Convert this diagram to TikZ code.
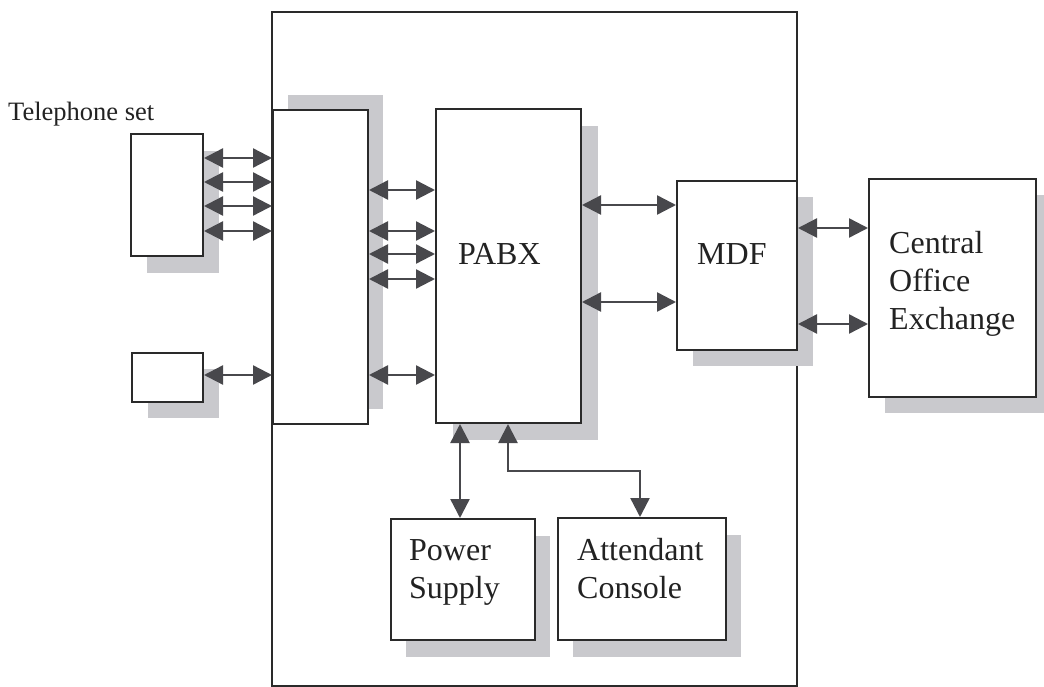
\documentclass[tikz,border=0pt]{standalone}
\usepackage{fontspec}
\setmainfont{Liberation Serif}
\usetikzlibrary{arrows.meta,shadows}
\definecolor{edge}{HTML}{2A2A2A}
\definecolor{arrowc}{HTML}{48484C}
\definecolor{shade}{HTML}{C9C9CD}
\definecolor{ink}{HTML}{222222}
\tikzset{
  box/.style={draw=edge, line width=2pt, fill=white, inner sep=0pt, anchor=north west},
  shd/.style 2 args={general shadow={fill=shade, shadow xshift=#1pt, shadow yshift=#2pt}},
  arr/.style={draw=arrowc, line width=2.4pt, {Triangle[length=19pt,width=19pt]}-{Triangle[length=19pt,width=19pt]}},
  lbl/.style={text=ink, inner sep=0pt, anchor=base west, align=left, font=\fontsize{32}{38}\selectfont},
}
\begin{document}
\begin{tikzpicture}[x=1pt,y=-1pt]
\useasboundingbox (0,0) rectangle (1044,687);
% outer frame
\node[draw=edge, line width=2pt, inner sep=0pt, anchor=north west, minimum width=525pt, minimum height=674pt] (outer) at (271,11) {};
% boxes
\node[box, shd={15}{15}, minimum width=95pt, minimum height=314pt] (iface) at (272,109) {};
\node[box, shd={16}{-17}, minimum width=72pt, minimum height=122pt] (phone1) at (130,133) {};
\node[box, shd={16}{-16}, minimum width=71pt, minimum height=49pt] (phone2) at (131,352) {};
\node[box, shd={17}{-17}, minimum width=145pt, minimum height=314pt] (pabx) at (435,108) {};
\node[box, shd={16}{-16}, minimum width=120pt, minimum height=169pt] (mdf) at (676,180) {};
\node[box, shd={16}{-16}, minimum width=167pt, minimum height=218pt] (coe) at (868,178) {};
\node[box, shd={15}{-17}, minimum width=144pt, minimum height=121pt] (ps) at (390,518) {};
\node[box, shd={15}{-17}, minimum width=168pt, minimum height=122pt] (ac) at (557,517) {};
% labels
\node[lbl, font=\fontsize{26.5}{31}\selectfont] (tel) at (8,121) {Telephone set};
\node[lbl] (pabxt) at (458,264) {PABX};
\node[lbl] (mdft) at (697,264) {MDF};
\node[lbl] (coet) at (889,329) {Central\\Office\\Exchange};
\node[lbl] (pst) at (409,598) {Power\\Supply};
\node[lbl] (act) at (577,598) {Attendant\\Console};
% phone -> interface
\foreach \yy in {158,182,206,231} {
  \draw[arr] (phone1.east |- 0,\yy) -- (iface.west |- 0,\yy);
}
\draw[arr] (phone2.east |- 0,375) -- (iface.west |- 0,375);
% interface -> PABX
\foreach \yy in {190,231,254,279,375} {
  \draw[arr] (iface.east |- 0,\yy) -- (pabx.west |- 0,\yy);
}
% PABX -> MDF
\foreach \yy in {205,302} {
  \draw[arr] (pabx.east |- 0,\yy) -- (mdf.west |- 0,\yy);
}
% MDF -> COE
\foreach \yy in {228,324} {
  \draw[arr] (mdf.east |- 0,\yy) -- (coe.west |- 0,\yy);
}
% PABX -> power supply / attendant console
\draw[arr] (pabx.south -| 460,0) -- (ps.north -| 460,0);
\draw[arr] (pabx.south -| 508,0) -- (508,471) -| (ac.north -| 640,0);
\end{tikzpicture}
\end{document}
